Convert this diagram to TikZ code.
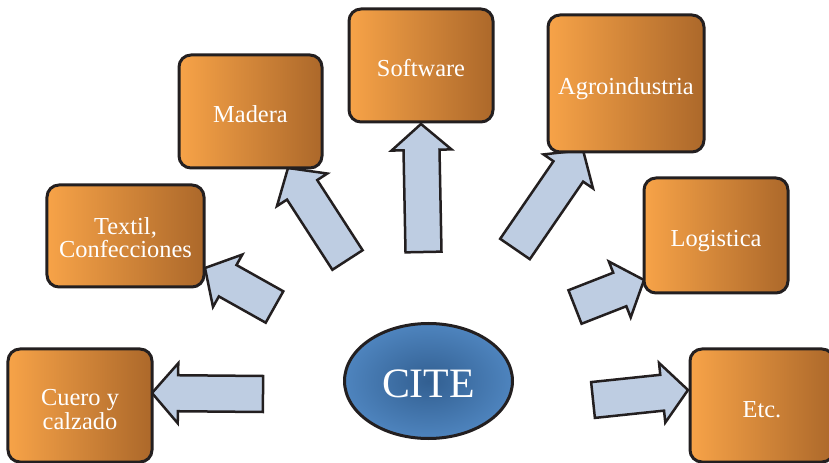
\documentclass[tikz,border=0pt]{standalone}
\usepackage{fontspec}
\setmainfont{Liberation Serif}
\usetikzlibrary{calc}
\usepgflibrary{shapes.geometric}

\definecolor{naranjaA}{RGB}{247,163,72}
\definecolor{naranjaB}{RGB}{234,145,58}
\definecolor{naranjaC}{RGB}{172,104,42}
\definecolor{azulA}{RGB}{50,95,145}
\definecolor{azulB}{RGB}{78,132,190}
\definecolor{celeste}{RGB}{190,205,226}
\definecolor{borde}{RGB}{35,31,32}

\pgfdeclarelayer{fondo}
\pgfsetlayers{fondo,main}

\tikzset{
  sector/.style={draw=borde, line width=3bp, rounded corners=12bp,
    left color=naranjaA, middle color=naranjaB, right color=naranjaC,
    text=white, align=center, inner sep=0pt, text height=23bp, text depth=0pt,
    font=\fontsize{24.5}{24}\selectfont},
  flecha/.style={draw=borde, fill=celeste, line width=2.5bp, line join=miter}
}

% block arrow from #1 (tail) to #2 (tip)
\newcommand{\flecha}[2]{%
  \coordinate (fh) at ($(#2)!26bp!(#1)$);
  \draw[flecha] ($(#1)!18bp!90:(#2)$) -- ($(fh)!18bp!-90:(#1)$)
    -- ($(fh)!30bp!-90:(#1)$) -- (#2) -- ($(fh)!30bp!90:(#1)$)
    -- ($(fh)!18bp!90:(#1)$) -- ($(#1)!18bp!-90:(#2)$) -- cycle;}

\begin{document}
\begin{tikzpicture}[x=1bp,y=-1bp]
          \clip (0,0) rectangle (829,463);

          \node[sector, minimum width=144bp, minimum height=113bp, text height=47bp] (cuero) at (80,405.5) {Cuero y\\calzado};
          \node[sector, minimum width=157bp, minimum height=102bp, text height=44bp] (textil) at (125.5,236) {Textil,\\Confecciones};
          \node[sector, minimum width=143bp, minimum height=113bp] (madera) at (250.5,111.5) {Madera};
          \node[sector, minimum width=144bp, minimum height=113bp] (software) at (421,65.5) {Software};
          \node[sector, minimum width=156bp, minimum height=137bp] (agro) at (626,83.5) {Agroindustria};
          \node[sector, minimum width=144bp, minimum height=115bp] (logistica) at (716,235.5) {Logistica};
          \node[sector, minimum width=144bp, minimum height=113bp] (etc) at (762,405.5) {Etc.};

          \node[ellipse, draw=borde, line width=3bp, inner color=azulA, outer color=azulB,
            minimum width=168bp, minimum height=115bp, inner sep=0pt, text=white,
            text height=32bp, text depth=0pt,
            font=\fontsize{42}{42}\selectfont] (cite) at (428.5,381) {CITE};

          % tails and tips of the arrows
          \coordinate (tcuero) at (263,394);     \coordinate (pcuero) at (152,393);
          \coordinate (ttextil) at (274.5,307);  \coordinate (ptextil) at (205,268);
          \coordinate (tmadera) at (347.5,260);  \coordinate (pmadera) at (288,168);
          \coordinate (tsoftware) at (423.5,252); \coordinate (psoftware) at (421,124);
          \coordinate (tagro) at (515,249);      \coordinate (pagro) at (583,150);
          \coordinate (tlogistica) at (575,307); \coordinate (plogistica) at (644,280);
          \coordinate (tetc) at (593,400);       \coordinate (petc) at (688,390);

          \begin{pgfonlayer}{fondo}
            \foreach \s in {cuero,textil,madera,software,agro,logistica,etc}
              {\flecha{t\s}{p\s}}
          \end{pgfonlayer}
        \end{tikzpicture}
\end{document}
